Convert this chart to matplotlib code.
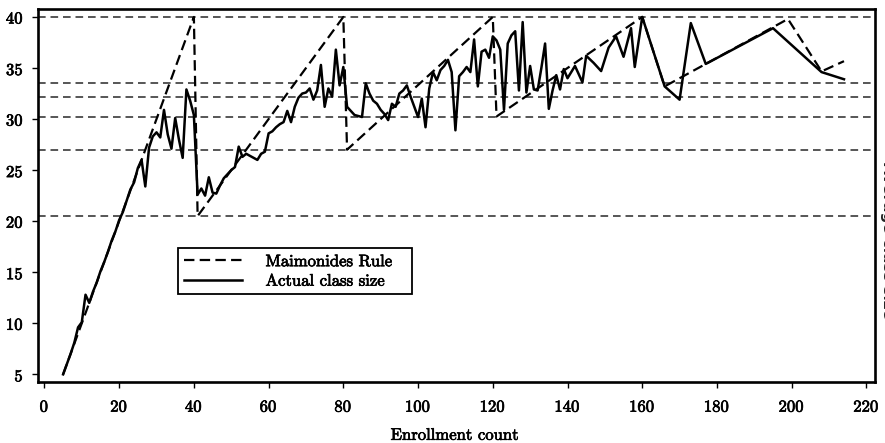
import matplotlib
matplotlib.use("Agg")
import matplotlib.pyplot as plt
import matplotlib.patheffects as pe

plt.rcParams["lines.scale_dashes"] = False
plt.rcParams["axes.formatter.use_mathtext"] = True
plt.rcParams["font.family"] = ["cmr10", "DejaVu Serif"]

# Average class size by enrollment count
enrollment = [5, 6, 7, 8, 9, 10, 11, 12, 13, 14, 15, 16, 17, 18, 19, 20, 21, 22, 23, 24,
              25, 26, 27, 28, 29, 30, 31, 32, 33, 34, 35, 36, 37, 38, 39, 40, 41, 42, 43, 44,
              45, 46, 47, 48, 49, 50, 51, 52, 53, 54, 55, 56, 57, 58, 59, 60, 61, 62, 63, 64,
              65, 66, 67, 68, 69, 70, 71, 72, 73, 74, 75, 76, 77, 78, 79, 80, 81, 82, 83, 84,
              85, 86, 87, 88, 89, 90, 91, 92, 93, 94, 95, 96, 97, 98, 99, 100, 101, 102, 103, 104,
              105, 106, 107, 108, 109, 110, 111, 112, 113, 114, 115, 116, 117, 118, 119, 120, 121, 122, 123, 124,
              125, 126, 127, 128, 129, 130, 131, 132, 133, 134, 135, 136, 137, 138, 139, 140, 142, 144, 145, 147,
              149, 151, 153, 155, 157, 158, 160, 166, 170, 173, 177, 195, 208, 214]
actual_size = [5.0, 6.0, 7.0, 8.1, 9.6, 10.1, 12.8, 12.0, 13.1, 14.0, 15.1, 16.0, 17.0, 18.1, 19.0, 20.1, 20.9, 22.0, 23.1, 23.8,
               25.2, 26.0, 23.4, 27.2, 28.3, 28.7, 28.2, 30.9, 28.5, 27.1, 30.1, 28.0, 26.2, 32.9, 31.8, 30.4, 22.6, 23.2, 22.5, 24.3,
               22.8, 22.7, 23.5, 24.2, 24.6, 25.0, 25.3, 27.3, 26.3, 26.6, 26.4, 26.2, 26.0, 26.6, 26.8, 28.6, 28.8, 29.2, 29.5, 29.7,
               30.8, 29.7, 31.2, 32.1, 32.5, 32.6, 33.0, 31.9, 32.8, 35.3, 31.2, 33.0, 32.2, 36.8, 33.3, 35.1, 31.2, 30.8, 30.4, 30.3,
               30.2, 33.5, 32.5, 31.8, 31.5, 30.9, 30.5, 29.9, 31.5, 31.2, 32.5, 32.8, 33.3, 32.2, 31.2, 30.2, 32.0, 29.2, 33.0, 34.6,
               33.8, 34.8, 35.2, 35.8, 34.6, 28.9, 34.2, 34.6, 35.1, 34.6, 37.8, 33.2, 36.6, 36.8, 36.0, 38.1, 37.7, 36.8, 30.9, 37.4,
               38.2, 38.6, 32.8, 39.5, 32.6, 35.2, 32.9, 32.8, 35.0, 37.4, 31.0, 32.8, 34.3, 32.9, 34.9, 34.0, 35.2, 33.6, 36.2, 35.5,
               34.7, 37.0, 38.1, 36.1, 38.9, 35.1, 40.0, 33.2, 31.9, 39.4, 35.4, 38.9, 34.6, 33.9]

# Class size predicted by Maimonides' rule (vertices of the piecewise line)
rule_enrollment = [5, 40, 41, 80, 81, 120, 121, 160, 166, 199, 208, 214]
rule_size = [5.0, 40.0, 20.5, 40.0, 27.0, 40.0, 30.25, 40.0, 33.2, 39.8, 34.67, 35.67]

# Reference levels: rule class size just past each cutoff
reference_levels = [20.5, 27.0, 30.25, 32.2, 33.5, 40.0]

x_ticks = [0, 20, 40, 60, 80, 100, 120, 140, 160, 180, 200, 220]
y_ticks = [5, 10, 15, 20, 25, 30, 35, 40]

heavy = [pe.withStroke(linewidth=0.5, foreground="black")]

fig = plt.figure(figsize=(8.85, 4.43), dpi=100)
ax = fig.add_axes([0.0426, 0.1377, 0.9461, 0.8413])

for lvl in reference_levels:
    ax.axhline(lvl, color="#3a3a3a", lw=1.2, linestyle=(0, (5.5, 3.5)), zorder=1)

ax.plot(rule_enrollment, rule_size, color="black", lw=1.6,
        linestyle=(0, (7.5, 3.8)), label="Maimonides Rule", zorder=3)
ax.plot(enrollment, actual_size, color="black", lw=1.8,
        label="Actual class size", zorder=4)

ax.set_xlim(-1.8, 222.3)
ax.set_ylim(4.25, 40.75)
ax.set_xticks(x_ticks)
ax.set_yticks(y_ticks)
ax.tick_params(axis="both", direction="out", length=4, width=1.0,
               labelsize=12, colors="black")
ax.tick_params(axis="x", pad=8)
ax.tick_params(axis="y", pad=6)
for lab in ax.get_xticklabels() + ax.get_yticklabels():
    lab.set_path_effects(heavy)
for s in ax.spines.values():
    s.set_linewidth(1.9)
    s.set_color("black")

ax.set_xlabel("Enrollment count", fontsize=12, path_effects=heavy)
ax.xaxis.set_label_coords(0.498, -0.122)

leg = ax.legend(loc="upper left", bbox_to_anchor=(0.1676, 0.228, 0.2794, 0.1315),
                mode="expand", borderaxespad=0, fontsize=12, frameon=True,
                fancybox=False, framealpha=1, edgecolor="black",
                handlelength=3.5, handletextpad=1.4, labelspacing=0.25, borderpad=0.35)
leg.get_frame().set_linewidth(1.3)
for t in leg.get_texts():
    t.set_path_effects(heavy)

fig.text(880 / 885, 1 - 240 / 443, "Average class size", rotation=270,
         ha="left", va="center", fontsize=11, fontweight="bold",
         family="DejaVu Sans", color="#222222")

fig.savefig("out.png", dpi=100)
